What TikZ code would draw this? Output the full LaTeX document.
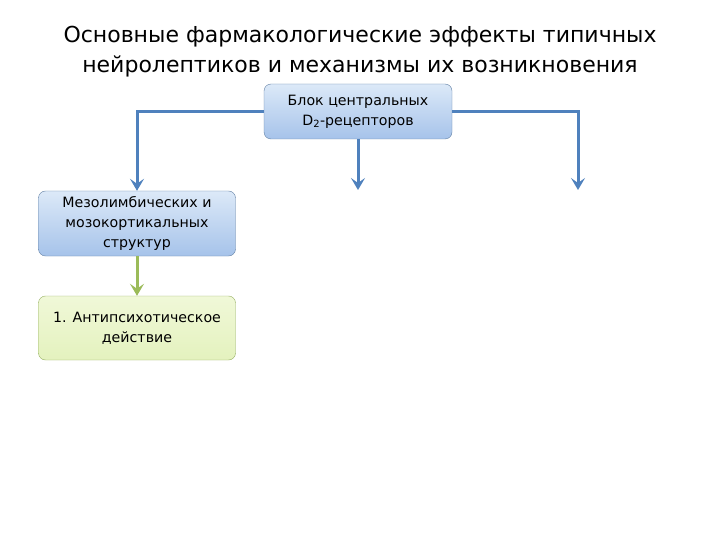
\documentclass[tikz,border=0pt]{standalone}
\usepackage{fontspec}
\setmainfont{DejaVu Sans}
\usetikzlibrary{arrows, arrows.meta, shapes, positioning}
\definecolor{pfeilblau}{HTML}{4F81BD}
\definecolor{pfeilgruen}{HTML}{9BBB59}
\definecolor{blauoben}{HTML}{DCE9F8}
\definecolor{blauunten}{HTML}{A6C3EA}
\definecolor{gruenoben}{HTML}{F0F8D8}
\definecolor{gruenunten}{HTML}{E4F2BE}
\begin{document}
\begin{tikzpicture}[x=1pt, y=-1pt,
			>={Stealth[length=12pt, width=14pt, inset=5pt]},   %Voreinstellung für Pfeilspitzen
			blaubox/.style={draw=pfeilblau!60!gray, rounded corners=7pt, align=center, inner sep=0pt,
				top color=blauoben, bottom color=blauunten, font=\fontsize{14.2}{20}\selectfont},
			gruenbox/.style={draw=pfeilgruen!80!gray, rounded corners=7pt, align=center, inner sep=0pt,
				top color=gruenoben, bottom color=gruenunten, font=\fontsize{14.2}{20}\selectfont},
			pfeil/.style={->, line width=3pt, color=pfeilblau},
			gpfeil/.style={->, line width=3pt, color=pfeilgruen}]
			%Bildbereich
			\useasboundingbox (0,0) rectangle (720,540);
			%Überschrift
			\node[align=center, font=\fontsize{22}{30}\selectfont] (titel) at (360,52)
				{Основные фармакологические эффекты типичных\\нейролептиков и механизмы их возникновения};
			% Kästen
			\node[blaubox, minimum width=188pt, minimum height=55pt] (d2) at (358,111.5)
				{Блок центральных\\D\textsubscript{2}-рецепторов};
			\node[blaubox, minimum width=197pt, minimum height=65pt] (meso) at (137,223.5)
				{Мезолимбических и\\мозокортикальных\\структур};
			\node[gruenbox, minimum width=197pt, minimum height=64pt] (anti) at (137,328)
				{1. Антипсихотическое\\действие};
			% freie Pfeilenden
			\coordinate (mitte) at (358,190);
			\coordinate (rechts) at (578,190);
			%Pfeile zeichnen
			\draw[pfeil] (d2.west) -| (meso.north);
			\draw[pfeil] (d2.east) -| (rechts);
			\draw[pfeil] (d2.south) -- (mitte);
			\draw[gpfeil] (meso.south) -- (anti.north);
		\end{tikzpicture}
\end{document}
